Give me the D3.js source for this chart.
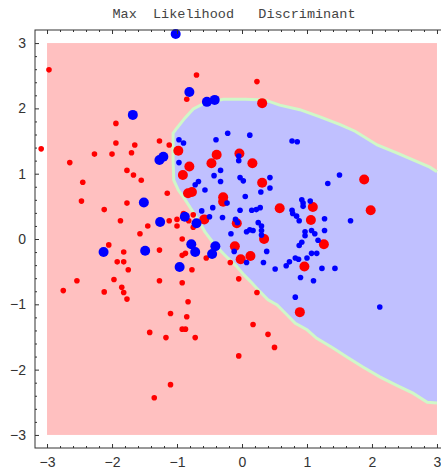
<!DOCTYPE html>
<html>
<head>
<meta charset="utf-8">
<script src="https://cdn.jsdelivr.net/npm/d3@7"></script>
<style>
  body { margin: 0; background: #fff; }
</style>
</head>
<body>
<div id="chart"></div>
<script>
// chart values
const title = "Max  Likelihood   Discriminant";
const majorTicks = [-3, -2, -1, 0, 1, 2, 3];

// decision boundary (blue region lies to its right)
const boundary = [
  [3.0, 1.03], [2.89, 1.10], [2.63, 1.21], [2.38, 1.32], [2.08, 1.44], [1.74, 1.65],
  [1.51, 1.75], [1.20, 1.87], [0.89, 1.98], [0.58, 2.05], [0.35, 2.13], [0.05, 2.14],
  [-0.29, 2.14], [-0.60, 2.07], [-0.75, 1.99], [-0.88, 1.85], [-1.00, 1.70], [-1.06, 1.62],
  [-1.06, 1.21], [-1.05, 0.90], [-0.98, 0.75], [-0.88, 0.61], [-0.77, 0.44], [-0.65, 0.25],
  [-0.57, 0.11], [-0.45, -0.05], [-0.34, -0.17], [-0.22, -0.29], [-0.09, -0.41], [0.03, -0.55],
  [0.15, -0.67], [0.28, -0.81], [0.40, -0.93], [0.54, -1.01], [0.66, -1.13], [0.82, -1.29],
  [1.00, -1.39], [1.15, -1.52], [1.40, -1.67], [1.62, -1.81], [1.86, -1.96], [2.12, -2.11],
  [2.38, -2.24], [2.63, -2.36], [2.85, -2.50], [3.0, -2.51]
];

// red class, correctly classified (small)
const redSmall = [
  [-2.97, 2.59], [-3.09, 1.38], [-1.94, 1.77], [-1.94, 1.47], [-1.65, 1.44], [-1.27, 1.50],
  [-1.12, 1.44], [-2.27, 1.30], [-2.00, 1.30], [-1.70, 1.32], [-2.65, 1.17], [-1.77, 1.05],
  [-1.67, 0.98], [-1.55, 0.90], [-2.45, 0.87], [-1.15, 0.70], [-2.47, 0.58], [-1.77, 0.55],
  [-2.12, 0.45], [-1.87, 0.28], [-1.12, 0.28], [-1.00, 0.30], [-1.00, 0.20], [-1.45, 0.20],
  [-1.57, 0.08], [-0.82, 0.28], [-0.90, 0.39], [-0.75, 0.37], [-0.75, 0.18], [-2.05, -0.09],
  [-0.92, 0.00], [-1.82, -0.20], [-1.27, -0.17], [-0.87, -0.22], [-0.92, -0.25], [-1.92, -0.35],
  [-1.82, -0.35], [-1.75, -0.47], [-0.77, -0.47], [-2.54, -0.64], [-1.97, -0.62], [-1.27, -0.64],
  [-0.92, -0.67], [-2.75, -0.79], [-2.12, -0.81], [-1.85, -0.74], [-1.82, -0.82], [-1.77, -0.92],
  [-0.83, -0.96], [-1.10, -1.14], [-0.85, -1.19], [-1.42, -1.43], [-0.92, -1.38], [-0.87, -1.38],
  [-1.17, -1.51], [-0.72, -1.51], [-1.10, -2.23], [-1.35, -2.43], [-0.55, -0.29], [-0.18, -0.36],
  [-0.05, -0.61], [0.23, -0.82], [0.17, -1.31], [0.40, -1.46], [0.50, -1.66], [-0.05, -1.79],
  [-0.70, 2.51], [0.23, 2.41], [-0.85, 2.14]
];

// red class, misclassified (large)
const redLarge = [
  [0.31, 2.08], [-0.98, 1.35], [-0.39, 1.29], [-0.04, 1.31], [-0.47, 1.16], [0.16, 1.16],
  [-0.81, 1.11], [-0.91, 0.98], [0.31, 0.86], [-0.77, 0.72], [-0.83, 0.70], [-0.29, 0.64],
  [-0.29, 0.57], [0.58, 0.47], [-0.58, 0.30], [-0.08, 0.24], [0.34, 0.00], [-0.11, -0.11],
  [0.13, -0.26], [-0.02, -0.31], [0.89, -1.12], [1.88, 0.91], [1.09, 0.49], [1.98, 0.44],
  [1.06, 0.29], [1.26, -0.08], [0.96, -0.42]
];

// blue class, misclassified (large)
const blueLarge = [
  [-1.02, 3.14], [-1.68, 1.90], [-0.81, 2.25], [-0.54, 2.10], [-0.42, 2.13], [-1.27, 1.21],
  [-1.21, 1.26], [-1.51, 0.56], [-1.26, 0.26], [-0.88, 0.34], [-0.70, 0.24], [-0.78, -0.08],
  [-2.13, -0.20], [-1.49, -0.18], [-0.72, -0.20], [-0.96, -0.43], [-0.41, -0.11], [-0.46, -0.23]
];

// blue class, correctly classified (small)
const blueSmall = [
  [-0.22, 1.62], [0.12, 1.59], [-0.97, 1.52], [-0.90, 1.47], [-0.40, 1.52], [-0.05, 1.27],
  [-0.05, 1.20], [-0.97, 1.17], [-0.33, 1.05], [-0.43, 0.97], [-0.33, 0.88], [-0.03, 0.94],
  [0.02, 0.89], [-0.67, 0.88], [-0.72, 0.83], [0.43, 0.94], [0.43, 0.78], [-0.57, 0.75],
  [0.29, 0.72], [0.05, 0.65], [0.77, 1.50], [0.85, 1.49], [-0.23, 0.55], [-0.45, 0.48],
  [-0.62, 0.43], [-0.03, 0.44], [0.15, 0.44], [0.22, 0.45], [0.28, 0.48], [0.77, 0.44],
  [0.78, 0.39], [0.84, 0.35], [-0.50, 0.34], [-0.30, 0.33], [-0.10, 0.30], [-0.07, 0.25],
  [0.25, 0.25], [0.30, 0.20], [0.12, 0.14], [0.07, 0.11], [0.17, 0.13], [0.30, 0.13],
  [0.30, 0.06], [-0.17, 0.08], [-0.12, -0.19], [0.07, -0.36], [0.38, -0.19], [0.33, -0.36],
  [0.73, -0.35], [0.68, -0.41], [0.87, -0.31], [0.51, -0.46], [0.88, -0.10], [0.82, -0.89],
  [1.50, 0.98], [1.32, 0.85], [0.92, 0.60], [0.94, 0.55], [0.94, 0.50], [1.05, 0.58],
  [0.88, 0.28], [1.27, 0.31], [1.67, 0.28], [0.97, 0.11], [0.97, 0.05], [1.07, 0.13],
  [1.12, 0.08], [1.27, 0.13], [1.17, -0.02], [0.92, -0.05], [1.07, -0.22], [1.15, -0.22],
  [0.82, -0.29], [1.00, -0.29], [1.23, -0.45], [1.43, -0.45], [0.90, -0.59], [1.10, -0.64],
  [2.12, -1.04]
];

const width = 441, height = 473;

const svg = d3.select('#chart').append('svg')
  .attr('width', width)
  .attr('height', height);

// frame spans a bit more than the plotted range
const x = d3.scaleLinear().domain([-3.185, 3.185]).range([35, 449]);
const y = d3.scaleLinear().domain([-3.2, 3.2]).range([448, 30]);

// background regions
svg.append('rect')
  .attr('x', x(-3)).attr('y', y(3))
  .attr('width', x(3) - x(-3)).attr('height', y(-3) - y(3))
  .attr('fill', '#ffc0c0');

svg.append('path')
  .datum(boundary)
  .attr('d', d3.line().x(d => x(d[0])).y(d => y(d[1])).curve(d3.curveLinearClosed))
  .attr('fill', '#c0c0ff');

svg.append('path')
  .datum(boundary)
  .attr('d', d3.line().x(d => x(d[0])).y(d => y(d[1])))
  .attr('fill', 'none')
  .attr('stroke', '#d0f8c8')
  .attr('stroke-width', 3);

// points: red first, then blue on top
function dots(data, color, r) {
  svg.append('g').selectAll('circle')
    .data(data)
    .join('circle')
    .attr('cx', d => x(d[0]))
    .attr('cy', d => y(d[1]))
    .attr('r', r)
    .attr('fill', color);
}
dots(redSmall, '#ff0000', 2.8);
dots(redLarge, '#ff0000', 5);
dots(blueLarge, '#0000ff', 5);
dots(blueSmall, '#0000ff', 2.8);

// frame with inward ticks
const minorTicks = d3.range(-3, 3.001, 0.2).filter(v => Math.abs(v - Math.round(v)) > 0.01);
const fmt = d => d3.format('d')(d);

function frameAxis(axisFn, scale, transform, labels) {
  const major = axisFn(scale).tickValues(majorTicks).tickSizeInner(-4).tickSizeOuter(0)
    .tickPadding(labels ? 9 : 0).tickFormat(labels ? fmt : '');
  const minor = axisFn(scale).tickValues(minorTicks).tickSizeInner(-2).tickSizeOuter(0).tickFormat('');
  const g1 = svg.append('g').attr('transform', transform).call(major);
  const g2 = svg.append('g').attr('transform', transform).call(minor);
  [g1, g2].forEach(g => {
    g.select('.domain').remove();
    g.selectAll('line').attr('stroke', '#333');
  });
  g1.selectAll('text')
    .attr('fill', '#333')
    .style('font-family', '"Liberation Sans", Arial, sans-serif')
    .style('font-size', '14px');
}
frameAxis(d3.axisBottom, x, `translate(0,${y(-3.2)})`, true);
frameAxis(d3.axisTop, x, `translate(0,${y(3.2)})`, false);
frameAxis(d3.axisLeft, y, `translate(${x(-3.185)},0)`, true);
frameAxis(d3.axisRight, y, `translate(${x(3.185)},0)`, false);

svg.append('rect')
  .attr('x', x(-3.185)).attr('y', y(3.2))
  .attr('width', x(3.185) - x(-3.185)).attr('height', y(-3.2) - y(3.2))
  .attr('fill', 'none')
  .attr('stroke', '#333')
  .attr('stroke-width', 1);

svg.append('text')
  .attr('x', 234)
  .attr('y', 18)
  .attr('text-anchor', 'middle')
  .style('white-space', 'pre')
  .style('font-family', '"Liberation Mono", "Courier New", monospace')
  .style('font-size', '13.5px')
  .attr('fill', '#444')
  .text(title);
</script>
</body>
</html>
